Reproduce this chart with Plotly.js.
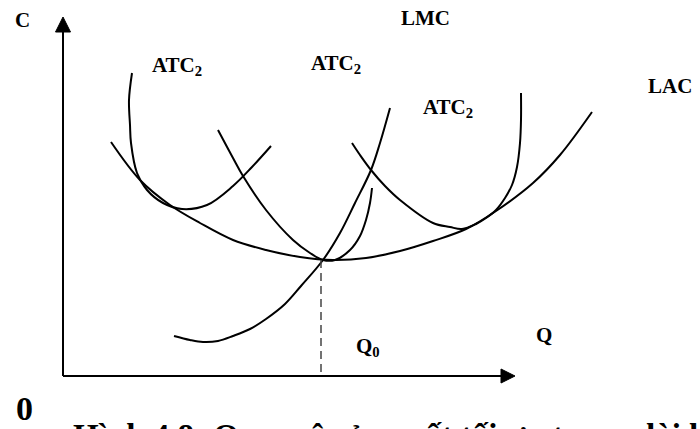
<!DOCTYPE html>
<html>
<head>
<meta charset="utf-8">
<script src="https://cdn.plot.ly/plotly-3.0.1.min.js"></script>
<style>html,body{margin:0;padding:0;background:#fff;}#chart{width:700px;height:429px;}</style>
</head>
<body>
<div id="chart"></div>
<script>
// Output quantity Q and cost C (units measured from origin 0)
const lacQ = [48, 77, 107, 137, 170, 203, 237, 270, 303, 337, 370, 403, 433, 470, 497, 529];
const lacC = [234, 196, 171, 153, 136, 126, 119, 116, 118, 125, 135, 147, 165, 193, 221, 264];

const lmcQ = [111, 127, 140, 155, 170, 187, 203, 222, 238, 260, 277, 292, 308, 317, 327];
const lmcC = [40, 36, 34, 35, 40, 47, 57, 72, 90, 116, 143, 173, 206, 233, 268];

const atc1Q = [69, 66, 67, 68, 74, 84, 100, 119, 144, 170, 189, 208];
const atc1C = [303, 276, 251, 233, 203, 186, 173, 167, 171, 190, 209, 230];

const atc2Q = [155, 170, 180, 203, 230, 247, 260, 272, 287, 297, 303, 307, 309];
const atc2C = [246, 218, 200, 166, 136, 123, 116, 116, 126, 140, 156, 173, 188];

const atc3Q = [289, 297, 308, 322, 337, 370, 387, 399, 413, 423, 433, 442, 449, 454, 457, 458, 458];
const atc3C = [233, 221, 206, 190, 176, 153, 149, 147, 152, 158, 166, 178, 191, 209, 233, 256, 283];

const q0 = 258;      // optimal output
const cMin = 116;    // minimum long-run average cost

const labels = ["C", "ATC<sub>2</sub>", "ATC<sub>2</sub>", "ATC<sub>2</sub>", "LMC", "LAC", "Q<sub>0</sub>", "Q", "0"];
const caption = "Hình 4.8: Quy mô sản xuất tối ưu trong dài hạn";

const lineStyle = {color: "#000", width: 2, shape: "spline", smoothing: 1};
function curve(x, y) {
  return {x: x, y: y, type: "scatter", mode: "lines", line: lineStyle, hoverinfo: "skip"};
}
const traces = [
  curve(lacQ, lacC), curve(lmcQ, lmcC), curve(atc1Q, atc1C),
  curve(atc2Q, atc2C), curve(atc3Q, atc3C),
  {x: [q0, q0], y: [cMin, 0], type: "scatter", mode: "lines",
   line: {color: "#444", width: 1.5, dash: "8px,5px"}, hoverinfo: "skip"}
];

const FAM = '"Liberation Serif", "Times New Roman", serif';
const f = (size) => ({family: FAM, size: size, color: "#000", weight: 700});
function ann(text, x, y, size, xa) {
  return {text: "<b>" + text + "</b>", x: x, y: y, xref: "x", yref: "y", showarrow: false,
          xanchor: xa || "left", yanchor: "middle", font: f(size)};
}
const annotations = [
  ann(labels[0], -41, 356, 21, "center"),
  ann(labels[1], 87, 310, 21),
  ann(labels[2], 246, 312, 21),
  ann(labels[3], 358, 268, 21),
  ann(labels[4], 336, 358, 21),
  ann(labels[5], 583, 290, 21),
  ann(labels[6], 291, 29, 21),
  ann(labels[7], 471, 41, 21),
  ann(labels[8], -49, -32, 34),
  {text: "<b>" + caption + "</b>", x: 71 / 700, y: -0.016, xref: "paper", yref: "paper",
   showarrow: false, xanchor: "left", yanchor: "middle", font: f(33)}
];

const shapes = [
  {type: "line", x0: 0, y0: 0, x1: 0, y1: 350, line: {color: "#000", width: 2}},
  {type: "line", x0: 0, y0: 0, x1: 445, y1: 0, line: {color: "#000", width: 2}},
  {type: "path", path: "M 0 359 L -7.5 344 L 7.5 344 Z", fillcolor: "#000", line: {color: "#000", width: 1}},
  {type: "path", path: "M 452 0 L 438 7 L 438 -7 Z", fillcolor: "#000", line: {color: "#000", width: 1}}
];

const layout = {
  width: 700, height: 429,
  margin: {l: 0, r: 0, t: 0, b: 0, pad: 0},
  paper_bgcolor: "#fff", plot_bgcolor: "#fff",
  font: {family: FAM, color: "#000"},
  showlegend: false,
  xaxis: {range: [-63, 637], visible: false, fixedrange: true},
  yaxis: {range: [-53, 376], visible: false, fixedrange: true},
  shapes: shapes,
  annotations: annotations
};
Plotly.newPlot("chart", traces, layout, {displayModeBar: false, staticPlot: true});
</script>
</body>
</html>
